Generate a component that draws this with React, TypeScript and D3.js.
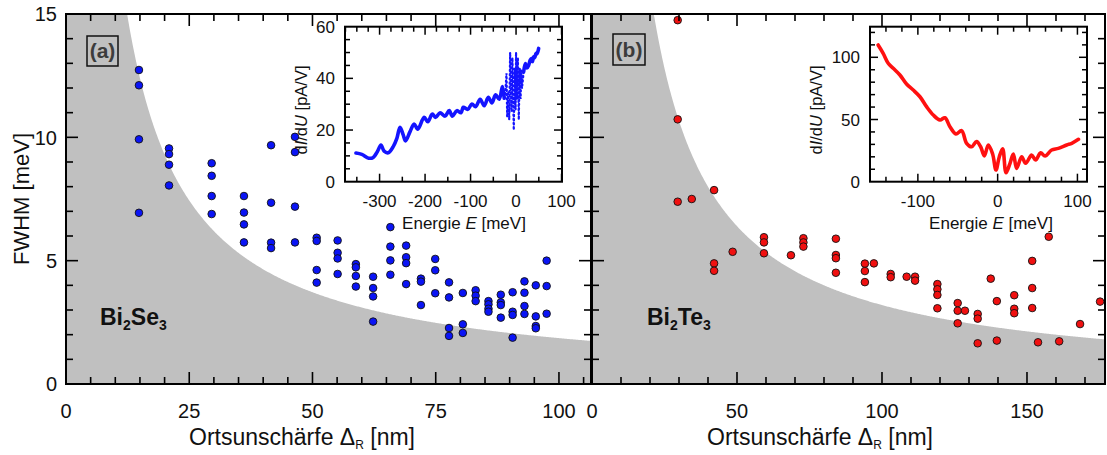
import React from 'react';
import * as d3 from 'd3';

// ---------- Data ----------
// Panel (a): Bi2Se3
const seDelta = [
  14.8, 14.8, 14.8, 14.8,
  20.9, 20.9, 20.9, 20.9,
  29.55, 29.55, 29.55, 29.55,
  36.1, 36.1, 36.1, 36.1,
  41.6, 41.6, 41.6, 41.6,
  46.45, 46.45, 46.45, 46.45,
  50.85, 50.85, 50.85, 50.85,
  55.1, 55.1, 55.1, 55.1,
  58.8, 58.8, 58.8, 58.8,
  62.3, 62.3, 62.3, 62.3,
  65.8, 65.8, 65.8, 65.8,
  69.0, 69.0, 69.0, 69.0,
  72.0, 72.0, 72.0,
  74.9, 74.9, 74.9,
  77.7, 77.7, 77.7, 77.7,
  80.5, 80.5, 80.5,
  83.1, 83.1, 83.1,
  85.7, 85.7, 85.7, 85.7,
  88.2, 88.2, 88.2, 88.2,
  90.6, 90.6, 90.6, 90.6,
  93.0, 93.0, 93.0, 93.0,
  95.3, 95.3, 95.3, 95.3,
  97.5, 97.5, 97.5,
];
const seFwhm = [
  12.73, 12.11, 9.92, 6.94,
  9.55, 9.32, 8.89, 8.05,
  8.95, 8.44, 7.62, 6.89,
  7.62, 6.95, 6.47, 5.74,
  9.68, 7.35, 5.73, 5.51,
  10.02, 9.4, 7.19, 5.74,
  5.93, 5.8, 4.62, 4.11,
  5.82, 5.32, 5.09, 4.46,
  4.86, 4.73, 4.38, 3.95,
  4.35, 3.89, 3.55, 2.53,
  6.36, 5.57, 5.01, 4.43,
  5.61, 5.14, 4.9, 4.05,
  4.27, 4.15, 3.2,
  5.07, 4.61, 3.68,
  4.12, 3.51, 2.27, 1.95,
  3.69, 2.42, 2.07,
  3.8, 3.58, 3.36,
  3.36, 3.23, 3.05, 2.93,
  3.62, 3.31, 3.2, 2.69,
  3.72, 2.93, 2.8, 1.88,
  4.16, 3.7, 3.16, 2.84,
  4.0, 2.74, 2.35, 2.26,
  5.0, 3.97, 2.85,
];

// Panel (b): Bi2Te3
const teDelta = [
  29.55, 29.55, 29.55,
  34.4,
  42.1, 42.1, 42.1,
  48.5,
  59.3, 59.3, 59.3,
  68.6,
  72.9, 72.9, 72.9,
  84.1, 84.1, 84.1, 84.1,
  94.1, 94.1, 94.1,
  97.2,
  103.0, 103.0,
  108.5,
  111.4, 111.4,
  119.1, 119.1, 119.1, 119.1,
  126.1, 126.1, 126.1,
  128.6,
  133.0, 133.0, 133.0,
  137.5,
  139.6, 139.6,
  145.6, 145.6, 145.6,
  151.8, 151.8, 151.8,
  153.8,
  157.5,
  161.1,
  168.3,
  175.2,
];
const teFwhm = [
  14.75, 10.73, 7.39,
  7.5,
  7.86, 4.89, 4.59,
  5.36,
  5.95, 5.74, 5.3,
  5.22,
  5.91, 5.74, 5.57,
  5.89, 5.23, 5.1, 4.51,
  4.88, 4.58, 4.13,
  4.89,
  4.46, 4.33,
  4.35,
  4.35, 4.19,
  4.05, 3.84, 3.61, 3.07,
  3.28, 2.97, 2.46,
  2.97,
  2.84, 2.65, 1.65,
  4.27,
  3.36, 1.76,
  3.6, 3.05, 2.87,
  4.99, 3.89, 3.08,
  1.69,
  5.97,
  1.73,
  2.43,
  3.34,
];

// Resolution limit  FWHM = C / Delta
const seLimitC = 186;
const teLimitC = 320;

// Inset (a): dI/dU spectrum of Bi2Se3
const seSpecE = [
  -352, -339, -324, -314, -305, -297, -290, -281, -270, -262, -255, -248, -243, -233,
  -224, -216, -202, -194, -184, -177, -167, -156, -147, -140, -130, -121, -116, -106,
  -97, -89, -79, -70, -61, -53, -45, -37, -30, -26,
];
const seSpecG = [
  11.1, 10.6, 9.1, 9.4, 11.6, 14.2, 11.8, 11.2, 13.6, 16.8, 21.1, 18.1, 15.8, 19.4,
  22.3, 20.3, 24.9, 23.2, 26.2, 24.9, 26.7, 25.4, 27.5, 25.4, 27.5, 26.7, 28.8, 28.0,
  30.1, 29.0, 31.9, 29.4, 32.7, 30.5, 33.6, 31.9, 36.8, 32.3,
];
const seNoiseE = [-26, -24, -21, -19.5, -17, -15, -13, -10, -8, -5, -3, -1, 0, 2, 4, 6, 8, 10, 11.5, 13, 16.7];
const seNoiseG = [32.3, 33, 42, 25, 35, 24, 50, 27, 48, 20, 44, 28, 50, 32, 48, 24, 44, 32, 43, 36, 42.6];
const seHighE = [16.7, 20.4, 24, 27.7, 31, 33.6, 36, 38.7, 41, 43.8, 46, 49.7];
const seHighG = [42.6, 45.7, 44, 45.1, 47, 47.7, 46.5, 48.4, 48, 49.7, 49.5, 51.6];

// Inset (b): dI/dU spectrum of Bi2Te3
const teSpecE = [
  -149.8, -143.5, -137.2, -130.9, -122.5, -114.2, -105.8, -97.4, -89.1, -80.7, -72.3,
  -66.1, -59.8, -52.3, -45.2, -38.9, -32.6, -26.4, -21.3, -16.7, -11.7, -6.3, -2.1,
  2.1, 6.3, 10.5, 15.5, 19.7, 23.8, 30.1, 35.1, 42.6, 47.6, 53.9, 59.4, 67.7, 76.1,
  86.6, 92.9, 101.3,
];
const teSpecG = [
  109.9, 103.2, 95.2, 91.2, 85.8, 78.5, 73.7, 68.3, 60.3, 53.6, 49.6,
  51.4, 44.2, 38.3, 41.0, 30.9, 28.1, 32.2, 28.1, 20.7, 29.5, 22.3, 9.4,
  20.1, 26.5, 7.2, 14.8, 22.3, 10.7, 20.1, 14.8, 21.4, 17.4, 23.3, 20.6, 25.5, 26.8,
  29.5, 30.9, 34.1,
];

// Tick labels
const mainYTicks = [0, 5, 10, 15];
const aXTicks = [0, 25, 50, 75, 100];
const bXTicks = [0, 50, 100, 150];
const aInsetXTicks = [-300, -200, -100, 0, 100];
const aInsetYTicks = [0, 20, 40, 60];
const bInsetXTicks = [-100, 0, 100];
const bInsetYTicks = [0, 50, 100];

// ---------- Layout ----------
const FONT = "'Liberation Sans', Arial, Helvetica, sans-serif";
const Y0 = 14, Y1 = 384;
const yMain = d3.scaleLinear().domain([0, 15]).range([Y1, Y0]);
const xA = d3.scaleLinear().domain([0, 106.5]).range([66, 591]);
const xB = d3.scaleLinear().domain([0, 176.9]).range([592, 1105]);
const GRAY = '#c0c0c0';

function limitArea(x: d3.ScaleLinear<number, number>, C: number) {
  const [d0, d1] = x.domain();
  const pts = d3.range(d0 + 0.01, d1 + 0.0001, (d1 - d0) / 600);
  pts.push(d1);
  const area = d3
    .area<number>()
    .x((d) => x(d))
    .y0(yMain(0))
    .y1((d) => yMain(Math.min(15, C / d)));
  return area([d0 + 1e-6, ...pts]) || '';
}

function Frame({ x, minorX, majorX, minorY, majorY, left, right }: any) {
  const [r0, r1] = x.range();
  const els: any[] = [];
  minorX.forEach((v: number, i: number) => {
    const px = x(v);
    const len = majorX.includes(v) ? 12 : 7;
    els.push(<line key={'bx' + i} x1={px} x2={px} y1={Y1} y2={Y1 - len} />);
    els.push(<line key={'tx' + i} x1={px} x2={px} y1={Y0} y2={Y0 + len} />);
  });
  minorY.forEach((v: number, i: number) => {
    const py = yMain(v);
    const len = majorY.includes(v) ? 12 : 7;
    if (left) els.push(<line key={'ly' + i} x1={r0} x2={r0 + len} y1={py} y2={py} />);
    if (right) els.push(<line key={'ry' + i} x1={r1} x2={r1 - len} y1={py} y2={py} />);
  });
  return (
    <g stroke="#000" strokeWidth={1.6}>
      {els}
      <rect x={r0} y={Y0} width={r1 - r0} height={Y1 - Y0} fill="none" strokeWidth={2} />
    </g>
  );
}

function Inset({ x0, x1, y0, y1, xDom, yDom, xMinor, xMinorTop, xMajor, yMinor, yMajor, xLabels, yLabels, children, yTitleX, xTitleX }: any) {
  const x = d3.scaleLinear().domain(xDom).range([x0, x1]);
  const y = d3.scaleLinear().domain(yDom).range([y1, y0]);
  const ticks: any[] = [];
  xMinor.forEach((v: number, i: number) => {
    const len = xMajor.includes(v) ? 8 : 5;
    ticks.push(<line key={'b' + i} x1={x(v)} x2={x(v)} y1={y1} y2={y1 - len} />);
  });
  xMinorTop.forEach((v: number, i: number) => {
    const len = xMajor.includes(v) ? 8 : 5;
    ticks.push(<line key={'t' + i} x1={x(v)} x2={x(v)} y1={y0} y2={y0 + len} />);
  });
  yMinor.forEach((v: number, i: number) => {
    const len = yMajor.includes(v) ? 8 : 5;
    ticks.push(<line key={'l' + i} x1={x0} x2={x0 + len} y1={y(v)} y2={y(v)} />);
    ticks.push(<line key={'r' + i} x1={x1} x2={x1 - len} y1={y(v)} y2={y(v)} />);
  });
  return (
    <g fontFamily={FONT}>
      <rect x={x0} y={y0} width={x1 - x0} height={y1 - y0} fill="#fff" />
      {children(x, y)}
      <g stroke="#000" strokeWidth={1.5}>{ticks}</g>
      <rect x={x0} y={y0} width={x1 - x0} height={y1 - y0} fill="none" stroke="#000" strokeWidth={2} />
      {xLabels.map((v: number) => (
        <text key={'xl' + v} x={x(v)} y={207} fontSize={17} textAnchor="middle" fill="#111">
          {v}
        </text>
      ))}
      {yLabels.map((v: number) => (
        <text key={'yl' + v} x={x0 - 10} y={y(v)} dy="0.36em" fontSize={17} textAnchor="end" fill="#111">
          {v}
        </text>
      ))}
      <text x={xTitleX} y={229} fontSize={17} textAnchor="middle" fill="#111">
        Energie <tspan fontStyle="italic">E</tspan> [meV]
      </text>
      <text transform={`translate(${yTitleX},110) rotate(-90)`} fontSize={16.5} textAnchor="middle" fill="#111">
        d<tspan fontStyle="italic">I</tspan>/d<tspan fontStyle="italic">U</tspan> [pA/V]
      </text>
    </g>
  );
}

export default function App() {
  const seDots = seDelta.map((d, i) => [d, seFwhm[i]]);
  const teDots = teDelta.map((d, i) => [d, teFwhm[i]]);

  return (
    <svg width={1107} height={455} style={{ position: 'absolute', left: 0, top: 0, background: '#fff' }} fontFamily={FONT}>
      <rect width={1107} height={455} fill="#fff" />
      {/* shaded regions */}
      <path d={limitArea(xA, seLimitC)} fill={GRAY} />
      <path d={limitArea(xB, teLimitC)} fill={GRAY} />

      {/* insets */}
      <Inset
        x0={345} x1={562} y0={26.7} y1={181.7}
        xDom={[-376, 101]} yDom={[0, 60]}
        xMinor={d3.range(-350, 101, 50)} xMinorTop={d3.range(-375, 101, 25)} xMajor={aInsetXTicks}
        yMinor={d3.range(5, 60, 5)} yMajor={aInsetYTicks}
        xLabels={aInsetXTicks} yLabels={aInsetYTicks} yTitleX={307} xTitleX={464}
      >
        {(x: any, y: any) => {
          const l = d3.line<number>().x((_, i) => x(seSpecE[i])).y((g) => y(g)).curve(d3.curveCatmullRom);
          const ln = d3.line<number>().x((_, i) => x(seNoiseE[i])).y((g) => y(g));
          const lh = d3.line<number>().x((_, i) => x(seHighE[i])).y((g) => y(g)).curve(d3.curveCatmullRom);
          return (
            <g fill="none" stroke="#1414ff" strokeLinecap="round">
              <path d={l(seSpecG) || ''} strokeWidth={3.6} />
              <path d={ln(seNoiseG) || ''} strokeWidth={2.2} strokeDasharray="1.2 3" />
              <path d={lh(seHighG) || ''} strokeWidth={3.6} />
            </g>
          );
        }}
      </Inset>
      <Inset
        x0={870} x1={1087} y0={26.7} y1={181.7}
        xDom={[-160, 112]} yDom={[0, 124.6]}
        xMinor={d3.range(-140, 111, 20)} xMinorTop={d3.range(-140, 111, 20)} xMajor={bInsetXTicks}
        yMinor={d3.range(10, 121, 10)} yMajor={bInsetYTicks}
        xLabels={bInsetXTicks} yLabels={bInsetYTicks} yTitleX={822} xTitleX={991}
      >
        {(x: any, y: any) => {
          const l = d3.line<number>().x((_, i) => x(teSpecE[i])).y((g) => y(g)).curve(d3.curveCatmullRom);
          return <path d={l(teSpecG) || ''} fill="none" stroke="#ff1010" strokeWidth={3.6} strokeLinecap="round" />;
        }}
      </Inset>

      {/* data points */}
      <g stroke="#111" strokeWidth={0.9}>
        {seDots.map((p, i) => (
          <circle key={'s' + i} cx={xA(p[0])} cy={yMain(p[1])} r={3.8} fill="#0a14f5" />
        ))}
        {teDots.map((p, i) => (
          <circle key={'t' + i} cx={xB(p[0])} cy={yMain(p[1])} r={3.8} fill="#f01010" />
        ))}
      </g>

      {/* frames */}
      <Frame x={xA} minorX={d3.range(0, 106, 5)} majorX={aXTicks} minorY={d3.range(1, 15, 1)} majorY={mainYTicks} left right />
      <Frame x={xB} minorX={d3.range(0, 177, 10)} majorX={bXTicks} minorY={d3.range(1, 15, 1)} majorY={mainYTicks} left right />

      {/* panel tags */}
      <g fontWeight="bold" fontSize={21} fill="#3c3c3c">
        <rect x={87} y={36} width={31} height={30} fill="none" stroke="#111" strokeWidth={1.5} />
        <text x={102.5} y={58} textAnchor="middle">(a)</text>
        <rect x={613} y={34} width={32} height={31} fill="none" stroke="#111" strokeWidth={1.5} />
        <text x={629} y={57} textAnchor="middle">(b)</text>
      </g>
      <g fontWeight="bold" fontSize={23} fill="#111">
        <text x={100} y={325}>
          Bi<tspan fontSize={14} dy={5}>2</tspan><tspan dy={-5}>Se</tspan><tspan fontSize={14} dy={5}>3</tspan>
        </text>
        <text x={647} y={325}>
          Bi<tspan fontSize={14} dy={5}>2</tspan><tspan dy={-5}>Te</tspan><tspan fontSize={14} dy={5}>3</tspan>
        </text>
      </g>

      {/* main axes labels */}
      <g fontSize={20} fill="#111">
        {mainYTicks.map((v) => (
          <text key={'y' + v} x={57} y={yMain(v)} dy="0.36em" textAnchor="end">{v}</text>
        ))}
        {aXTicks.map((v) => (
          <text key={'ax' + v} x={xA(v)} y={418} textAnchor="middle">{v}</text>
        ))}
        {bXTicks.map((v) => (
          <text key={'bx' + v} x={xB(v)} y={418} textAnchor="middle">{v}</text>
        ))}
      </g>
      <g fontSize={23} fill="#111">
        <text transform="translate(29,199) rotate(-90)" textAnchor="middle" fontSize={22}>FWHM [meV]</text>
        <text x={302} y={445} textAnchor="middle">
          Ortsunschärfe Δ<tspan fontSize={12} dy={4}>R</tspan><tspan dy={-4}> [nm]</tspan>
        </text>
        <text x={820} y={445} textAnchor="middle">
          Ortsunschärfe Δ<tspan fontSize={12} dy={4}>R</tspan><tspan dy={-4}> [nm]</tspan>
        </text>
      </g>
    </svg>
  );
}
